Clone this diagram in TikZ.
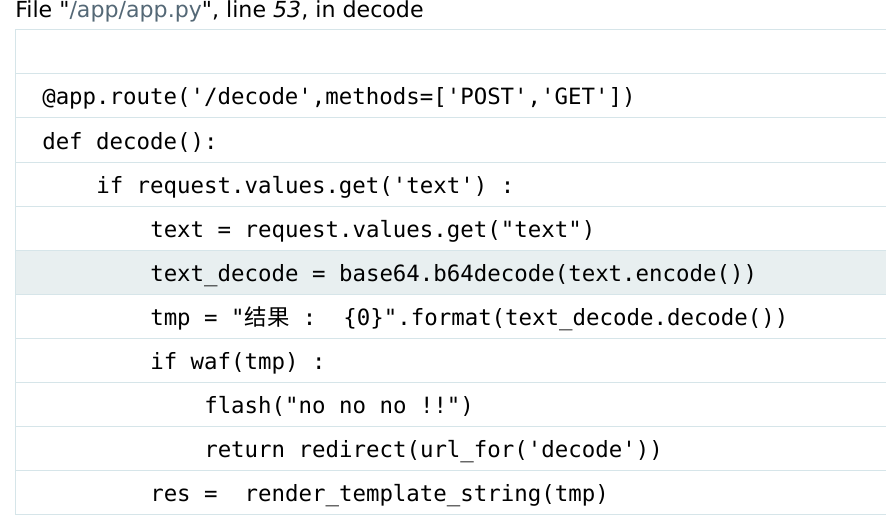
\documentclass[tikz,border=0pt]{standalone}
\usepackage{fontspec}
\setmainfont{DejaVu Sans}
\setmonofont{DejaVu Sans Mono}
\newfontfamily\cjk{Noto Sans CJK SC}
\usetikzlibrary{positioning}

\definecolor{rowline}{RGB}{214,229,233}
\definecolor{rowhl}{RGB}{232,239,240}
\definecolor{pathgrey}{RGB}{84,104,118}

\newcommand\us{\char"005F\relax}

\tikzset{
  codeline/.style={anchor=base west, inner sep=0pt, font=\fontsize{16.8pt}{20pt}\ttfamily},
  header/.style={anchor=base west, inner sep=0pt, font=\fontsize{16.6pt}{20pt}\selectfont},
  rule/.style={draw=rowline, line width=0.75pt},
}

\begin{document}
\begin{tikzpicture}[x=0.75pt,y=-0.75pt]
  \useasboundingbox (0,0) rectangle (886,528);
  \fill[rowhl] (15,250) rectangle (886,294);
  \foreach \y in {30,74,...,514}
    \draw[rule] (15,\y) -- (886,\y);
  \draw[rule] (15,30) -- (15,514);

  \node[header] (head) at (15,17.5) {File \textquotedbl{\color{pathgrey}/app/app.py}\textquotedbl, line \textit{53}, in decode};

  \node[codeline] (route)  at (42,105)  {@app.route('/decode',methods=['POST','GET'])};
  \node[codeline] (def)    at (42,149)  {def decode():};
  \node[codeline] (iftext) at (96,193)  {if request.values.get('text') :};
  \node[codeline] (text)   at (150,237) {text = request.values.get("text")};
  \node[codeline] (b64)    at (150,281) {text\us decode = base64.b64decode(text.encode())};
  \node[codeline] (tmp)    at (150,325) {tmp = "{\cjk 结果} :\ \ \{0\}".format(text\us decode.decode())};
  \node[codeline] (ifwaf)  at (150,369) {if waf(tmp) :};
  \node[codeline] (flash)  at (204,413) {flash("no no no !!")};
  \node[codeline] (ret)    at (204,457) {return redirect(url\us for('decode'))};
  \node[codeline] (res)    at (150,501) {res = \ render\us template\us string(tmp)};
\end{tikzpicture}
\end{document}
